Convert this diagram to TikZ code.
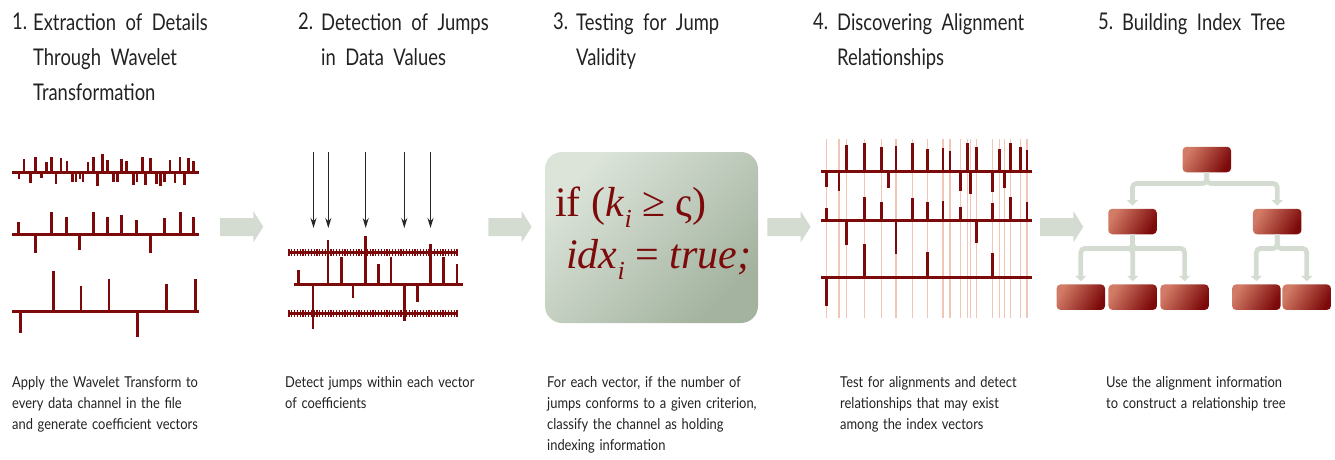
\documentclass[tikz,border=0pt]{standalone}
\usepackage{fontspec}
\setmainfont{Lato}[FakeStretch=0.80]
\newfontfamily\descfont{Lato}[FakeStretch=0.86]
\newfontfamily\formulafont{Liberation Serif}
\usetikzlibrary{positioning,arrows.meta}

\definecolor{jumpred}{HTML}{7D0A0A}
\definecolor{brick}{HTML}{D27B66}
\definecolor{paleline}{HTML}{F2C6B6}
\definecolor{sage}{HTML}{D4DCD2}
\definecolor{sagelight}{HTML}{DCE4DA}
\definecolor{sagedark}{HTML}{A3B39F}
\definecolor{inktext}{HTML}{222222}
\definecolor{probegray}{HTML}{262626}

% subscript for the rule in stage 3
\newcommand{\fsub}[1]{\raisebox{-0.28em}{\fontsize{26}{26}\selectfont\itshape #1}}
% wider word gaps
\newcommand{\titlegap}{\spaceskip=9.5pt plus 2pt minus 1pt\relax}
\newcommand{\descgap}{\spaceskip=4.7pt plus 1pt minus 1pt\relax}

\begin{document}
\begin{tikzpicture}[x=1pt, y=-1pt, >=Stealth,
    title/.style={anchor=north west, inner sep=0, align=left, text=inktext,
        font=\fontsize{23}{35}\selectfont, execute at begin node=\titlegap},
    desc/.style={anchor=north west, inner sep=0, align=left, text=inktext,
        font=\descfont\fontsize{15}{21}\selectfont, execute at begin node=\descgap},
    tick/.style={draw=jumpred, line width=2.6pt},
    axisline/.style={draw=jumpred, line width=3pt},
    hatch/.style={draw=jumpred, line width=7pt, dash pattern=on 1.3pt off 1.5pt},
    guide/.style={draw=paleline, line width=1.3pt},
    probe/.style={draw=probegray, line width=1.3pt, -{Stealth[length=10pt,width=6pt]}},
    stagearrow/.style={fill=sage},
    rulebox/.style={rounded corners=17pt, minimum width=213pt, minimum height=171pt,
        inner sep=0, top color=sagelight, bottom color=sagedark, shading angle=45},
    formula/.style={anchor=base west, inner sep=0, text=jumpred,
        font=\formulafont\fontsize{42}{42}\selectfont},
    treebox/.style={rounded corners=4pt, minimum width=48.5pt, minimum height=25.5pt,
        inner sep=0, top color=brick, bottom color=jumpred, shading angle=60},
    treeedge/.style={draw=sage, line width=4.7pt, rounded corners=4pt,
        -{Triangle[width=11pt,length=5.5pt]}, shorten >=3pt}]
\useasboundingbox (0,0) rectangle (1335,459);

% stage titles
\node[title] (num1) at (12,13) {1.};
\node[title] (head1) at (33,13) {Extraction of Details\\Through Wavelet\\Transformation};
\node[title] (num2) at (298,13) {2.};
\node[title] (head2) at (321,13) {Detection of Jumps\\in Data Values};
\node[title] (num3) at (553,13) {3.};
\node[title] (head3) at (576,13) {Testing for Jump\\Validity};
\node[title] (num4) at (813,13) {4.};
\node[title] (head4) at (837,13) {Discovering Alignment\\Relationships};
\node[title] (num5) at (1098,13) {5.};
\node[title] (head5) at (1122,13) {Building Index Tree};

% stage descriptions
\node[desc] (desc1) at (12,376) {Apply the Wavelet Transform to\\every data channel in the file\\and generate coefficient vectors};
\node[desc] (desc2) at (285,376) {Detect jumps within each vector\\of coefficients};
\node[desc] (desc3) at (547,376) {For each vector, if the number of\\jumps conforms to a given criterion,\\classify the channel as holding\\indexing information};
\node[desc] (desc4) at (840,376) {Test for alignments and detect\\relationships that may exist\\among the index vectors};
\node[desc] (desc5) at (1106,376) {Use the alignment information\\to construct a relationship tree};

% arrows between stages
\foreach \x in {220,488.3,767.3,1040}
    \fill[stagearrow] (\x,218) -- (\x+33.3,218) -- (\x+33.3,211) -- (\x+43.3,226.8)
        -- (\x+33.3,242.5) -- (\x+33.3,236) -- (\x,236) -- cycle;

% stage 1: coefficient vectors
\foreach \x/\y in {24/159.3,35.3/156.7,46.3/161.7,51.3/156.7,61/158.3,67/160.7,88/161.7,
    93.7/156.7,102.3/154.3,107.3/160,121.3/159.3,126.7/160.7,142.3/156.7,150.7/158.3,
    170/160,180/156.7,188.7/158.3,193.7/160.7,19/179.3,30.3/183.3,41.3/178.3,56/184,
    72.3/182.3,76/182.3,80/179.3,83/182.3,97.7/185.7,113.7/182.3,117.3/182.3,133.7/185,
    137/182.3,145.3/185,156.7/184,160.7/186,164.7/182.3,175/182.7,184.3/185}
    \draw[tick] (\x,172.3) -- (\x,\y);
\foreach \x/\y in {18.7/221.7,51.7/212.3,66.3/216.7,93.7/212.3,107.7/216.7,121.3/215.3,
    136.3/220,164.7/217.7,180.3/212.3,193.7/216.7,35.3/253.3,79.3/250,150.3/252.7}
    \draw[tick] (\x,234) -- (\x,\y);
\foreach \x/\y in {53.3/271,81/285.7,109/279.3,166.7/284,195.3/279.3,20.3/332.7,137.7/336.7}
    \draw[tick] (\x,311.7) -- (\x,\y);
\foreach \y in {172.3,234,311.7}
    \draw[axisline] (12,\y) -- (199.3,\y);

% stage 2: jumps found on the middle vector
\draw[hatch] (288.3,252.7) -- (457.7,252.7);
\draw[axisline] (288.3,252.7) -- (457.7,252.7);
\draw[hatch] (288.3,313) -- (457.7,313);
\draw[axisline] (288.3,313) -- (457.7,313);
\foreach \x/\y in {298.3/270,328/240,341.3/256.7,365.7/235.7,378.7/264.3,391/257.3,
    430.3/244,443.7/257.3,457/264.3,313/329.3,353/298.3,404.7/320.7,417.7/301.7}
    \draw[tick] (\x,284) -- (\x,\y);
\draw[axisline] (294,284) -- (463.3,284);
\foreach \x in {313.5,328.3,365.7,404.3,430.5}
    \draw[probe] (\x,151.7) -- (\x,228);

% stage 3: validity rule
\node[rulebox] (rule) at (651.5,237.5) {};
\node[formula] (ruleif) at (555,216)
    {if (\textit{k}\fsub{i} ≥ ς)};
\node[formula] (ruleset) at (566,268)
    {\textit{idx}\fsub{i} = \textit{true;}};

% stage 4: alignment guides
\foreach \x in {826.7,839,846.7,864.7,881.3,896,912.3,927.3,943,950,960.7,967.3,970.7,
    976.7,992.7,999.7,1004.3,1010.7,1020.3,1027}
    \draw[guide] (\x,139) -- (\x,318);
\foreach \x/\y in {846.7/145,864.7/143.3,881.3/146.7,896/145.7,912.3/143.3,927.3/149.3,
    943/148,950/151,967.3/143.3,976.7/146.7,999.7/149.3,1010.7/143.3,1020.3/146.7,
    1027/150,826.7/186.7,839/191,888.7/187.7,960.7/190.7,970.7/194.3,992.7/191.7,1004.3/188.3}
    \draw[tick] (\x,171.7) -- (\x,\y);
\foreach \x/\y in {826.7/208.3,864.7/196.7,881.3/202.3,912.3/197.7,927.3/202.3,943/201,
    960.7/206.7,992.7/203.3,1010.7/196.7,1027/202.3,846.7/245,896/254.3,976.7/243.3}
    \draw[tick] (\x,220.7) -- (\x,\y);
\foreach \x/\y in {864.7/244.3,927.3/251.7,992.7/252.7,826.7/305.7}
    \draw[tick] (\x,277.7) -- (\x,\y);
\foreach \y in {171.7,220.7,277.7}
    \draw[axisline] (821,\y) -- (1031.7,\y);

% stage 5: index tree
\node[treebox] (root) at (1206.8,159.5) {};
\node[treebox] (midL) at (1132.5,221.5) {};
\node[treebox] (midR) at (1277.2,221.5) {};
\node[treebox] (leafA) at (1080.8,297.2) {};
\node[treebox, right=3pt of leafA] (leafB) {};
\node[treebox, right=3pt of leafB] (leafC) {};
\node[treebox] (leafD) at (1256.3,297.2) {};
\node[treebox, right=1.5pt of leafD] (leafE) {};
\foreach \k in {midL,midR}
    \draw[treeedge] (root.south) -- ++(0,11) -| (\k.north);
\foreach \k in {leafA,leafB,leafC}
    \draw[treeedge] (midL.south) -- ++(0,14) -| (\k.north);
\foreach \k in {leafD,leafE}
    \draw[treeedge] (midR.south) -- ++(0,14) -| (\k.north);
\end{tikzpicture}
\end{document}
